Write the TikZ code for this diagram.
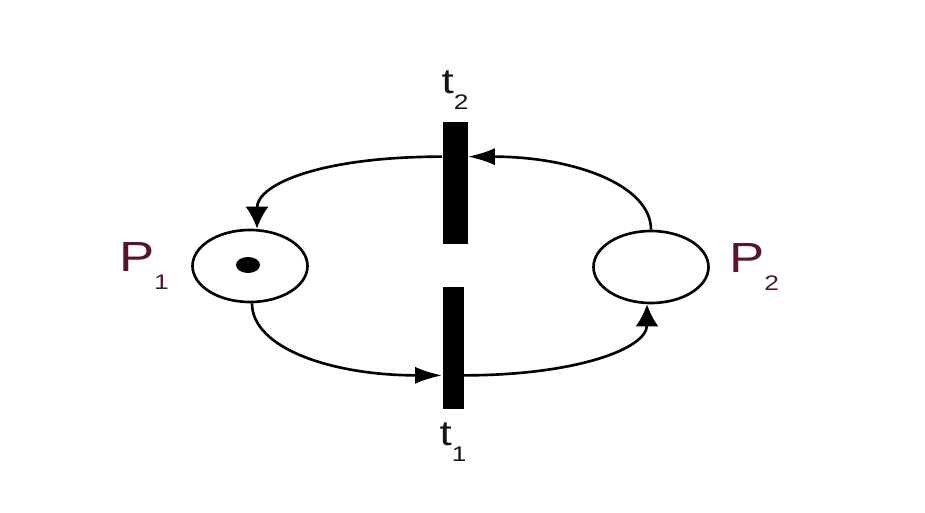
\documentclass[tikz,border=0pt]{standalone}
\usepackage{fontspec}
\setmainfont{Liberation Sans}
\usepackage{xcolor}
\usepackage{tikz}
\usetikzlibrary{shapes.geometric,arrows.meta,positioning}
\definecolor{placered}{RGB}{85,22,42}
\definecolor{inkblack}{RGB}{20,20,25}
\newcommand{\lbsub}[1]{\raisebox{-0.45em}{\fontsize{12}{12}\selectfont #1}}
\newcommand{\wide}[1]{\scalebox{1.25}[1]{#1}}
\tikzset{
  place/.style={ellipse,draw=black,line width=1.5pt,fill=white,
              minimum width=2.3cm,minimum height=1.44cm},
  token/.style={ellipse,fill=black,minimum width=0.48cm,minimum height=0.32cm,inner sep=0pt},
  trans/.style={rectangle,fill=black,minimum height=2.44cm,inner sep=0pt},
  plabel/.style={inner sep=0pt,text=placered,font=\fontsize{24}{28}\selectfont},
  tlabel/.style={inner sep=0pt,text=inkblack,font=\fontsize{20}{24}\selectfont},
  harc/.style={-{Latex[length=5.4mm,width=3.4mm]},line width=1.5pt,draw=black},
  varc/.style={-{Latex[length=4.4mm,width=4.6mm]},line width=1.5pt,draw=black},
}
\begin{document}
\begin{tikzpicture}
  \useasboundingbox (0,0) rectangle (18.5,10.24);
  % places
  \node[place] (p1) at (5.0,4.92) {};
  \node[token] (tok) at (4.96,4.94) {};
  \node[place] (p2) at (13.02,4.90) {};
  % transitions
  \node[trans,minimum width=0.5cm] (t2) at (9.10,6.58) {};
  \node[trans,minimum width=0.42cm] (t1) at (9.06,3.28) {};
  % labels
  \node[plabel,left=0.44cm of p1] (p1lab) {\wide{P\lbsub{1}}};
  \node[plabel,right=0.38cm of p2] (p2lab) {\wide{P\lbsub{2}}};
  \node[tlabel,above=0.24cm of t2] (t2lab) {\wide{t\lbsub{2}}};
  \node[tlabel,below=0.26cm of t1] (t1lab) {\wide{t\lbsub{1}}};

  \draw[varc] ([yshift=-0.7cm]t2.north west) .. controls +(-2.4,0) and +(0,0.9) .. ([xshift=0.14cm]p1.north);
  \draw[harc] (p2.north) .. controls +(0,0.9) and +(2.1,0) .. ([yshift=-0.7cm]t2.north east);
  \draw[harc] ([xshift=0.04cm]p1.south) .. controls +(0,-0.9) and +(-2.2,0) .. ([yshift=0.68cm]t1.south west);
  \draw[varc] ([yshift=0.68cm]t1.south east) .. controls +(2.2,0) and +(0,-0.9) .. ([xshift=-0.08cm]p2.south);
\end{tikzpicture}
\end{document}
